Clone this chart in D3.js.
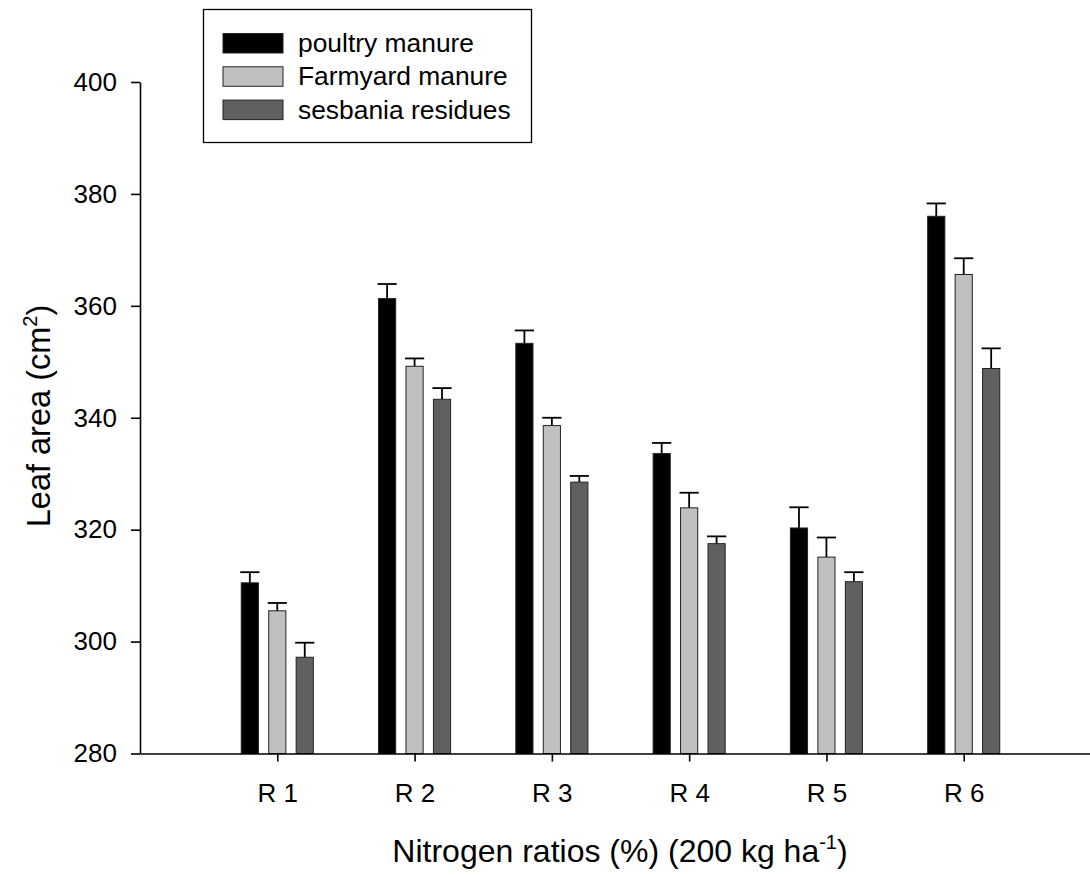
<!DOCTYPE html>
<html>
<head>
<meta charset="utf-8">
<script src="https://cdn.jsdelivr.net/npm/d3@7"></script>
<style>
  body { margin: 0; background: #fff; }
  svg text { font-family: "Liberation Sans", Arial, sans-serif; fill: #000; }
</style>
</head>
<body>
<div class="chart"></div>
<script>
// values
var categories = ["R 1", "R 2", "R 3", "R 4", "R 5", "R 6"];
var seriesNames = ["poultry manure", "Farmyard manure", "sesbania residues"];
var seriesColors = ["#000000", "#c0c0c0", "#606060"];

var poultry = [310.5, 361.3, 353.3, 333.6, 320.3, 376.0];
var poultryErr = [1.9, 2.6, 2.3, 1.9, 3.7, 2.3];
var farmyard = [305.5, 349.2, 338.6, 323.9, 315.1, 365.6];
var farmyardErr = [1.4, 1.4, 1.4, 2.7, 3.5, 2.9];
var sesbania = [297.2, 343.3, 328.5, 317.5, 310.7, 348.8];
var sesbaniaErr = [2.6, 2.0, 1.1, 1.3, 1.7, 3.6];

var yTicks = [280, 300, 320, 340, 360, 380, 400];

var svgWidth = 1090;
var svgHeight = 875;

var svg = d3.select(".chart")
  .append("svg")
  .attr("width", svgWidth)
  .attr("height", svgHeight);

// x runs 0..7 with the groups at 1..6
var xScale = d3.scaleLinear().domain([0, 7]).range([140, 1101]);
var yScale = d3.scaleLinear().domain([280, 400]).range([753.5, 82]);

var barW = xScale(0.125) - xScale(0);
var capHalf = xScale(0.07) - xScale(0);
var offsets = [-0.2, 0, 0.2];

var series = [
  { vals: poultry, errs: poultryErr },
  { vals: farmyard, errs: farmyardErr },
  { vals: sesbania, errs: sesbaniaErr }
];

var bars = [];
series.forEach(function(s, si) {
  s.vals.forEach(function(v, i) {
    bars.push({ pos: i + 1 + offsets[si], value: v, err: s.errs[i], color: seriesColors[si] });
  });
});

var chart = svg.append("g");

// error bars (drawn first, bar tops cover the stem base)
var eb = chart.selectAll(".err").data(bars).enter().append("g").attr("class", "err")
  .attr("stroke", "#000").attr("stroke-width", 1.8);
eb.append("line")
  .attr("x1", function(d) { return xScale(d.pos); })
  .attr("x2", function(d) { return xScale(d.pos); })
  .attr("y1", function(d) { return yScale(d.value); })
  .attr("y2", function(d) { return yScale(d.value + d.err); });
eb.append("line")
  .attr("x1", function(d) { return xScale(d.pos) - capHalf; })
  .attr("x2", function(d) { return xScale(d.pos) + capHalf; })
  .attr("y1", function(d) { return yScale(d.value + d.err); })
  .attr("y2", function(d) { return yScale(d.value + d.err); });

chart.selectAll("rect.bar").data(bars).enter().append("rect")
  .attr("class", "bar")
  .attr("x", function(d) { return xScale(d.pos) - barW / 2; })
  .attr("width", barW)
  .attr("y", function(d) { return yScale(d.value); })
  .attr("height", function(d) { return yScale(280) - yScale(d.value); })
  .attr("fill", function(d) { return d.color; })
  .attr("stroke", "#222")
  .attr("stroke-width", 1);

// axes
var leftAxis = d3.axisLeft(yScale).tickValues(yTicks).tickSize(9).tickSizeOuter(0).tickPadding(14);
var bottomAxis = d3.axisBottom(xScale).tickValues([1, 2, 3, 4, 5, 6])
  .tickFormat(function(d) { return categories[d - 1]; })
  .tickSize(8).tickSizeOuter(0).tickPadding(22);

var gy = svg.append("g").attr("transform", "translate(140,0)").call(leftAxis);
var gx = svg.append("g").attr("transform", "translate(0,753.5)").call(bottomAxis);

[gx, gy].forEach(function(g) {
  g.selectAll("path, line").attr("stroke", "#000").attr("stroke-width", 1.6);
  g.selectAll("text").attr("font-size", 26).attr("font-family", "Liberation Sans, Arial, sans-serif");
});

// axis titles
var xt = svg.append("text")
  .attr("x", 620).attr("y", 862)
  .attr("text-anchor", "middle")
  .attr("font-size", 32);
xt.append("tspan").text("Nitrogen ratios (%) (200 kg ha");
xt.append("tspan").attr("font-size", 20).attr("dy", -13).text("-1");
xt.append("tspan").attr("dy", 13).text(")");

var yt = svg.append("text")
  .attr("transform", "translate(50,416) rotate(-90)")
  .attr("text-anchor", "middle")
  .attr("font-size", 32.5);
yt.append("tspan").text("Leaf area (cm");
yt.append("tspan").attr("font-size", 20).attr("dy", -13).text("2");
yt.append("tspan").attr("dy", 13).text(")");

// legend
var legend = svg.append("g");
legend.append("rect")
  .attr("x", 203.5).attr("y", 9.5).attr("width", 328).attr("height", 133)
  .attr("fill", "#fff").attr("stroke", "#000").attr("stroke-width", 1.3);

var items = legend.selectAll(".item").data(seriesNames).enter().append("g")
  .attr("transform", function(d, i) { return "translate(0," + (33.5 + i * 33.3) + ")"; });
items.append("rect")
  .attr("x", 223).attr("y", 0).attr("width", 60).attr("height", 19.5)
  .attr("fill", function(d, i) { return seriesColors[i]; })
  .attr("stroke", "#222").attr("stroke-width", 1);
items.append("text")
  .attr("x", 298).attr("y", 18.5)
  .attr("font-size", 26.4)
  .text(function(d) { return d; });
</script>
</body>
</html>
